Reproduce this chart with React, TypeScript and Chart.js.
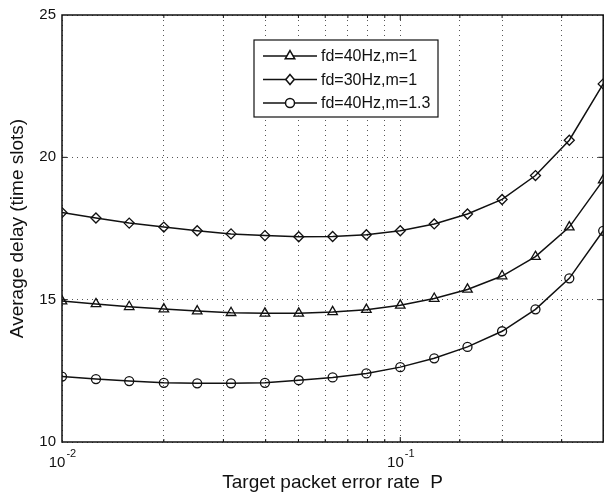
import React, { useEffect, useRef } from "react";
import { Chart, registerables } from "chart.js";

Chart.register(...registerables);

// ---- data ----
const packetErrorRate = [
  0.01, 0.0126, 0.0158, 0.02, 0.0251, 0.0316, 0.0398, 0.0501, 0.0631,
  0.0794, 0.1, 0.126, 0.158, 0.2, 0.251, 0.316, 0.398,
];
const delayFd40M1 = [
  14.95, 14.85, 14.75, 14.67, 14.6, 14.54, 14.52, 14.52, 14.57, 14.65, 14.8,
  15.04, 15.36, 15.83, 16.51, 17.55, 19.2,
];
const delayFd30M1 = [
  18.06, 17.87, 17.69, 17.55, 17.42, 17.31, 17.25, 17.21, 17.22, 17.28, 17.42,
  17.66, 18.01, 18.52, 19.36, 20.6, 22.58,
];
const delayFd40M13 = [
  12.3, 12.21, 12.14, 12.08, 12.06, 12.06, 12.08, 12.17, 12.27, 12.41, 12.63,
  12.94, 13.34, 13.89, 14.66, 15.75, 17.42,
];
const seriesLabels = ["fd=40Hz,m=1", "fd=30Hz,m=1", "fd=40Hz,m=1.3"];
const seriesMarkers = ["triangle", "rectRot", "circle"];
const xTickValues = [0.01, 0.1];
const xTickExponents = ["-2", "-1"];
const xMin = 0.01;
const xMax = 0.398;
const yMin = 10;
const yMax = 25;
const yStep = 5;
const xTitle = "Target packet error rate  P";
const yTitle = "Average delay (time slots)";

const FONT = '"Liberation Sans", Arial, Helvetica, sans-serif';
const INK = "#111";

function drawMarker(ctx: CanvasRenderingContext2D, style: string, x: number, y: number) {
  ctx.beginPath();
  if (style === "triangle") {
    const r = 5.5;
    ctx.moveTo(x, y - r);
    ctx.lineTo(x + r * Math.sin(Math.PI * 2 / 3), y - r * Math.cos(Math.PI * 2 / 3));
    ctx.lineTo(x - r * Math.sin(Math.PI * 2 / 3), y - r * Math.cos(Math.PI * 2 / 3));
    ctx.closePath();
  } else if (style === "rectRot") {
    const r = 5;
    ctx.moveTo(x, y - r);
    ctx.lineTo(x + r * 0.85, y);
    ctx.lineTo(x, y + r);
    ctx.lineTo(x - r * 0.85, y);
    ctx.closePath();
  } else {
    ctx.arc(x, y, 4.5, 0, Math.PI * 2);
  }
  ctx.fillStyle = "#fff";
  ctx.fill();
  ctx.stroke();
}

const decorPlugin = {
  id: "decor",
  afterDraw(chart: any) {
    const { ctx, chartArea: a, scales } = chart;
    ctx.save();
    // frame
    ctx.strokeStyle = INK;
    ctx.lineWidth = 1.5;
    ctx.strokeRect(a.left, a.top, a.right - a.left, a.bottom - a.top);

    // inward ticks
    ctx.lineWidth = 1;
    const yScale = scales.y;
    for (let v = yMin + yStep; v < yMax; v += yStep) {
      const py = yScale.getPixelForValue(v);
      ctx.beginPath();
      ctx.moveTo(a.left, py);
      ctx.lineTo(a.left + 5, py);
      ctx.moveTo(a.right, py);
      ctx.lineTo(a.right - 5, py);
      ctx.stroke();
    }
    const xScale = scales.x;
    xScale.ticks.forEach((t: any) => {
      if (t.value <= xMin || t.value >= xMax) return;
      const px = xScale.getPixelForValue(t.value);
      const len = xTickValues.includes(t.value) ? 5 : 3;
      ctx.beginPath();
      ctx.moveTo(px, a.bottom);
      ctx.lineTo(px, a.bottom - len);
      ctx.moveTo(px, a.top);
      ctx.lineTo(px, a.top + len);
      ctx.stroke();
    });

    // x tick labels with superscripts
    ctx.fillStyle = INK;
    ctx.textBaseline = "alphabetic";
    ctx.textAlign = "left";
    xTickValues.forEach((v, i) => {
      const px = xScale.getPixelForValue(v);
      ctx.font = `15px ${FONT}`;
      const bw = ctx.measureText("10").width;
      ctx.font = `11px ${FONT}`;
      const ew = ctx.measureText(xTickExponents[i]).width;
      const start = px - (bw + ew) / 2;
      ctx.font = `15px ${FONT}`;
      ctx.fillText("10", start, a.bottom + 25);
      ctx.font = `11px ${FONT}`;
      ctx.fillText(xTickExponents[i], start + bw + 1, a.bottom + 15);
    });

    // legend
    const lx = 254, ly = 40, lw = 184, lh = 77;
    ctx.fillStyle = "#fff";
    ctx.fillRect(lx, ly, lw, lh);
    ctx.strokeStyle = INK;
    ctx.lineWidth = 1.2;
    ctx.strokeRect(lx, ly, lw, lh);
    chart.data.datasets.forEach((ds: any, i: number) => {
      const ry = ly + 16 + i * 23.5;
      ctx.strokeStyle = INK;
      ctx.lineWidth = 1.5;
      ctx.beginPath();
      ctx.moveTo(lx + 9, ry);
      ctx.lineTo(lx + 63, ry);
      ctx.stroke();
      drawMarker(ctx, seriesMarkers[i], lx + 36, ry);
      ctx.fillStyle = INK;
      ctx.font = `16px ${FONT}`;
      ctx.textBaseline = "middle";
      ctx.fillText(ds.label, lx + 67, ry + 1);
    });
    ctx.restore();
  },
};

export default function App() {
  const ref = useRef<HTMLCanvasElement | null>(null);
  useEffect(() => {
    if (!ref.current) return;
    const allSeries = [delayFd40M1, delayFd30M1, delayFd40M13];
    const chart = new Chart(ref.current, {
      type: "line",
      data: {
        datasets: allSeries.map((vals, i) => ({
          label: seriesLabels[i],
          data: packetErrorRate.map((p, j) => ({ x: p, y: vals[j] })),
          borderColor: INK,
          borderWidth: 1.5,
          backgroundColor: "rgba(255,255,255,0)",
          pointStyle: seriesMarkers[i] as any,
          pointRadius: i === 0 ? 5.5 : i === 1 ? 5 : 4.5,
          pointBorderColor: INK,
          pointBorderWidth: 1.3,
          pointBackgroundColor: "rgba(255,255,255,0)",
          tension: 0,
          fill: false,
        })),
      },
      options: {
        animation: false,
        responsive: false,
        maintainAspectRatio: false,
        layout: { padding: { top: 15, right: 1, left: 0, bottom: 0 } },
        plugins: { legend: { display: false }, tooltip: { enabled: false } },
        scales: {
          x: {
            type: "logarithmic",
            min: xMin,
            max: xMax,
            ticks: { display: false },
            grid: { color: "#555", lineWidth: 1, drawTicks: false },
            border: { display: false, dash: [1, 4] },
            title: {
              display: true,
              text: xTitle,
              color: INK,
              font: { size: 19, family: FONT },
              padding: { top: 0, bottom: 0 },
            },
            afterFit: (s: any) => {
              s.height = 52;
            },
          },
          y: {
            min: yMin,
            max: yMax,
            ticks: {
              stepSize: yStep,
              color: INK,
              font: { size: 15, family: FONT },
              padding: 6,
            },
            grid: { color: "#555", lineWidth: 1, drawTicks: false },
            border: { display: false, dash: [1, 4] },
            title: {
              display: true,
              text: yTitle,
              color: INK,
              font: { size: 19, family: FONT },
              padding: { top: 6, bottom: 0 },
            },
            afterFit: (s: any) => {
              s.width = 62;
            },
          },
        },
      },
      plugins: [decorPlugin],
    });
    return () => chart.destroy();
  }, []);
  return (
    <div style={{ position: "fixed", left: 0, top: 0, width: 610, height: 494, background: "#fff" }}>
      <canvas ref={ref} width={610} height={494} style={{ width: 610, height: 494 }} />
    </div>
  );
}
